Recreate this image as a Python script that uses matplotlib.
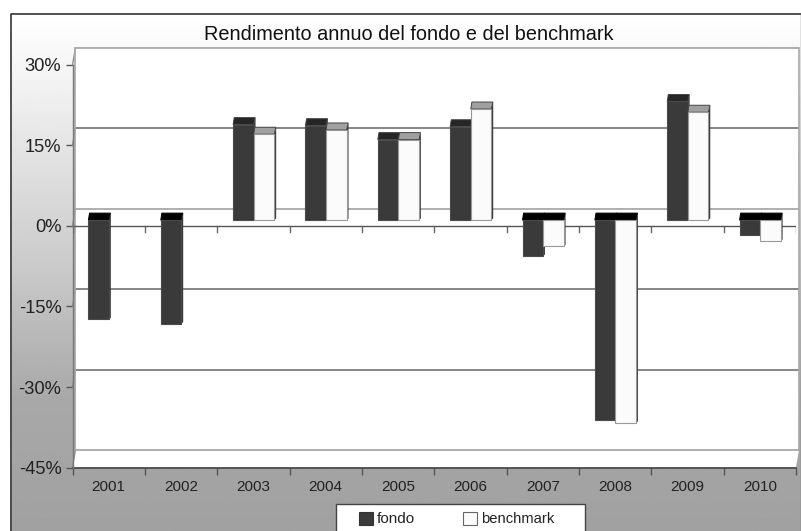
import numpy as np
import matplotlib
matplotlib.use('Agg')
import matplotlib.pyplot as plt
from matplotlib.patches import Polygon, Rectangle

plt.rcParams['font.family'] = ['Liberation Sans', 'DejaVu Sans']

# dati (%)
anni = ['2001', '2002', '2003', '2004', '2005', '2006', '2007', '2008', '2009', '2010']
fondo = [-18.5, -19.3, 17.8, 17.6, 15.0, 17.4, -6.7, -37.3, 22.1, -2.8]
benchmark = [np.nan, np.nan, 16.0, 16.8, 15.0, 20.7, -4.9, -37.8, 20.1, -3.9]
tick_y = [-45, -30, -15, 0, 15, 30]

W, H = 801, 531
# piano frontale in pixel
L, R, T, B = 72.5, 796, 65, 467.5
BASE = 1.1      # i bar stanno a meta profondita
CAP = 1.3       # altezza della faccia superiore
DX_W, DY_W = 0.04, 3.17   # spostamento della parete di fondo
BAR_W = 0.285

fig = plt.figure(figsize=(W / 100, H / 100), dpi=100, facecolor='white')

# sfondo sfumato
bg = fig.add_axes([0, 0, 1, 1], zorder=0)
bg.set_xlim(0, W)
bg.set_ylim(H, 0)
bg.axis('off')
grad = np.interp(np.linspace(14, H, 200), [14, 70, 270, 400, H], [1.0, 0.96, 0.79, 0.66, 0.63])
bg.imshow(grad[:, None], cmap='gray', vmin=0, vmax=1, extent=[10, W, H, 14], aspect='auto', zorder=0)
bg.plot([10.5, 10.5, W], [H, 14, 14], color='#444444', lw=1.3, zorder=1)
bg.plot([W - 0.5, W - 0.5], [14, H], color='#777777', lw=1, zorder=1)
bg.set_xlim(0, W)
bg.set_ylim(H, 0)

ax = fig.add_axes([L / W, 1 - B / H, (R - L) / W, (B - T) / H], zorder=1)
ax.set_xlim(0, 10)
ax.set_ylim(-45, 30)
ax.patch.set_visible(False)
for s in ax.spines.values():
    s.set_visible(False)

# parete bianca
ax.add_patch(Polygon([(0, -45), (DX_W, -45 + DY_W), (DX_W, 30 + DY_W), (10 + DX_W, 30 + DY_W),
                      (10 + DX_W, -45 + DY_W), (10, -45)],
                     closed=True, fc='white', ec='none', clip_on=False, zorder=1))
for v in tick_y:
    light = v in (-45, 0, 30)
    col = '#a8a8a8' if light else '#666666'
    ax.plot([DX_W, 10 + DX_W], [v + DY_W, v + DY_W], color=col, lw=1.3 if light else 1.1,
            clip_on=False, zorder=2, solid_capstyle='butt')
    ax.plot([0, DX_W], [v, v + DY_W], color='#888888', lw=0.9, clip_on=False, zorder=2)
ax.plot([DX_W, DX_W], [-45 + DY_W, 30 + DY_W], color='#a8a8a8', lw=1.2, clip_on=False, zorder=2)
ax.plot([10 + DX_W, 10 + DX_W], [-45 + DY_W, 30 + DY_W], color='#a8a8a8', lw=1.2, clip_on=False, zorder=2)

# linea dello zero con le tacche
ax.axhline(0, color='#555555', lw=1.0, zorder=3)
ax.axhline(-45, color='#444444', lw=1.2, zorder=3, clip_on=False)
ax.plot([0, 0], [-45, 30], color='#777777', lw=1.0, clip_on=False, zorder=3)
for i in range(11):
    ax.plot([i, i], [0, -1.05], color='#666666', lw=1.0, zorder=3)


def disegna_barre(valori, x0, col_front, col_top_pos, col_edge, z):
    for i, v in enumerate(valori):
        if np.isnan(v):
            continue
        x = i + x0
        top = max(v, 0) + BASE
        bot = min(v, 0) + BASE
        # faccia superiore: al livello dello zero per i negativi
        col_top = col_top_pos if v > 0 else '#000000'
        edge_top = '#444444' if v > 0 else '#000000'
        ax.add_patch(Polygon([(x, top), (x + 0.015, top + CAP), (x + BAR_W + 0.02, top + CAP),
                              (x + BAR_W, top)], closed=True, fc=col_top, ec=edge_top, lw=0.7, zorder=z))
        # faccia laterale
        ax.add_patch(Polygon([(x + BAR_W, bot), (x + BAR_W + 0.025, bot + 0.3), (x + BAR_W + 0.025, top + CAP),
                              (x + BAR_W, top)], closed=True, fc='#3a3a3a', ec='none', zorder=z))
        ax.bar(x, top - bot, width=BAR_W, bottom=bot, align='edge', color=col_front,
               edgecolor=col_edge, linewidth=0.8, zorder=z + 0.1)


disegna_barre(fondo, 0.22, '#3a3a3a', '#262626', '#4a4a4a', 5)
disegna_barre(benchmark, 0.22 + BAR_W, '#fbfbfb', '#a0a0a0', '#999999', 6)

ax.set_xticks(np.arange(11))
ax.set_xticklabels([])
ax.tick_params(axis='x', length=5, width=1, color='#555555', pad=3)
ax.set_xticks(np.arange(10) + 0.5, minor=True)
ax.set_xticklabels(anni, minor=True, fontsize=11, color='#222222')
ax.tick_params(axis='x', which='minor', length=0, pad=9)
ax.set_yticks(tick_y)
ax.set_yticklabels([f'{v}%' for v in tick_y], fontsize=13.2, color='#222222')
ax.tick_params(axis='y', length=5, width=1, color='#555555', pad=3)

# titolo
fig.text(409 / W, 1 - 35 / H, 'Rendimento annuo del fondo e del benchmark', ha='center', va='center',
         fontsize=14.3, color='#111111')

# legenda
leg = fig.add_axes([0, 0, 1, 1], zorder=3)
leg.set_xlim(0, W)
leg.set_ylim(H, 0)
leg.axis('off')
leg.add_patch(Rectangle((336, 504), 249, 30, fc='white', ec='#444444', lw=1))
leg.add_patch(Rectangle((359, 512), 14, 13, fc='#3a3a3a', ec='#333333', lw=0.8))
leg.add_patch(Rectangle((463, 512), 14, 13, fc='#fbfbfb', ec='#666666', lw=0.8))
leg.text(377, 519, 'fondo', fontsize=11, va='center', color='#222222')
leg.text(481, 519, 'benchmark', fontsize=10.6, va='center', color='#222222')

fig.savefig('out.png', dpi=100)
